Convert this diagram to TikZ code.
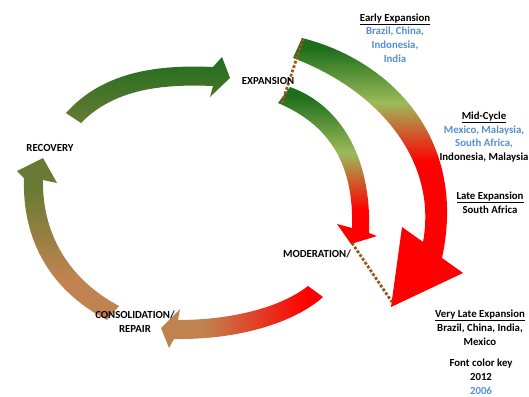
\documentclass[tikz,border=0pt]{standalone}
\usepackage{fontspec}
\setmainfont{Carlito}
\usepackage{tikz}

\definecolor{dgreen}{RGB}{30,110,28}
\definecolor{lgreen}{RGB}{155,187,89}
\definecolor{olivegreen}{RGB}{104,122,52}
\definecolor{tanbrown}{RGB}{192,131,80}
\definecolor{keyblue}{RGB}{85,142,213}
\definecolor{dotbrown}{RGB}{156,87,26}

\pgfdeclareverticalshading{recovband}{100bp}{color(0bp)=(tanbrown); color(38bp)=(tanbrown); color(66bp)=(olivegreen); color(100bp)=(olivegreen)}
\pgfdeclarehorizontalshading{consband}{100bp}{color(0bp)=(tanbrown); color(38bp)=(tanbrown); color(70bp)=(red); color(100bp)=(red)}
\pgfdeclareverticalshading{innerband}{100bp}{color(0bp)=(red); color(36bp)=(red); color(54bp)=(lgreen); color(72bp)=(dgreen); color(100bp)=(dgreen)}
\pgfdeclareverticalshading{outerband}{100bp}{color(0bp)=(red); color(52bp)=(red); color(63bp)=(lgreen); color(73bp)=(dgreen); color(100bp)=(dgreen)}

\begin{document}
\begin{tikzpicture}[x=1pt,y=-1pt,
  lbl/.style={font=\bfseries\fontsize{10.8}{13.8}\selectfont,inner sep=0pt,align=center},
  dotline/.style={dotbrown,line width=2.8pt,dash pattern=on 2.8pt off 1.8pt}]

  \useasboundingbox (0,0) rectangle (529,396);

  \shade[top color=dgreen,bottom color=olivegreen] (66,113) .. controls (100,75) and (150,64) .. (213,67) -- (222,57) -- (230,78) -- (210,97) -- (213,86) .. controls (165,84) and (115,88) .. (81,123) -- cycle;
  \shade[shading=recovband] (107,320) .. controls (50,290) and (22,240) .. (24,178) -- (17,171) -- (43,158) -- (57,183) -- (43,180) .. controls (42,235) and (70,280) .. (119,306) -- cycle;
  \shade[shading=consband] (308,286) .. controls (280,308) and (230,320) .. (178,320) -- (180,309) -- (161,328) -- (169,348) -- (174,339) .. controls (240,340) and (295,322) .. (323,297) -- cycle;
  \shade[shading=innerband] (290,87) .. controls (335,103) and (372,150) .. (369,233) -- (377,236) -- (351,244) -- (337,224) -- (352,228) .. controls (354,165) and (330,125) .. (278,103) -- cycle;
  \shade[shading=outerband] (302,38) .. controls (390,60) and (468,138) .. (442,258) -- (463,273) -- (391,307) -- (402,227) -- (423,242) .. controls (438,160) and (378,90) .. (293,58) -- cycle;

  \coordinate (cutA) at (303,39);
  \coordinate (cutB) at (282,103);
  \coordinate (cutC) at (352,243);
  \coordinate (cutD) at (392,302);
  \draw[dotline] (cutA) -- (cutB);
  \draw[dotline] (cutC) -- (cutD);

  \node[lbl] (exp) at (268,81) {EXPANSION};
  \node[lbl] (rec) at (50,148) {RECOVERY};
  \node[lbl] (mod) at (317,254) {MODERATION/};
  \node[lbl] (cons) at (135,322) {CONSOLIDATION/\\REPAIR};

  \node[lbl] (early) at (395,38) {\underline{Early Expansion}\\\textcolor{keyblue}{Brazil, China,}\\\textcolor{keyblue}{Indonesia,}\\\textcolor{keyblue}{India}};
  \node[lbl] (mid) at (484,137) {\underline{Mid-Cycle}\\\textcolor{keyblue}{Mexico, Malaysia,}\\\textcolor{keyblue}{South Africa,}\\Indonesia, Malaysia};
  \node[lbl] (late) at (490,202.5) {\underline{Late Expansion}\\South Africa};
  \node[lbl] (vlate) at (480,327.5) {\underline{Very Late Expansion}\\Brazil, China, India,\\Mexico};
  \node[lbl] (key) at (481,377) {Font color key\\2012\\\textcolor{keyblue}{2006}};

\end{tikzpicture}
\end{document}
